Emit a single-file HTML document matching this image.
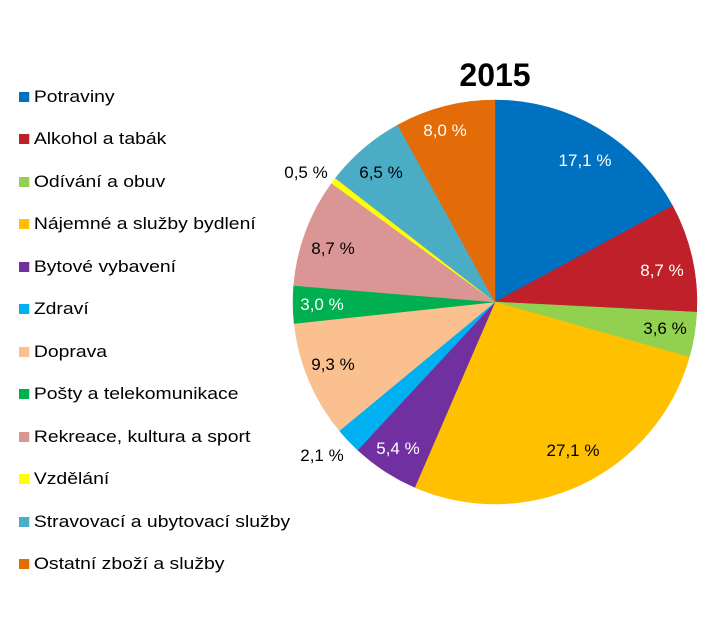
<!DOCTYPE html>
<html><head><meta charset="utf-8"><style>
body{margin:0;background:#fff;width:720px;height:628px;overflow:hidden;font-family:"Liberation Sans",sans-serif;}
.lg{position:absolute;left:19px;font-size:17px;color:#000;line-height:20px;transform:scaleX(1.14);transform-origin:0 0;white-space:nowrap;}
.lg i{display:inline-block;width:9px;height:10px;margin-right:4px;vertical-align:0px;}
</style></head><body>
<div style="position:relative;width:720px;height:628px">
<div class="lg" style="top:87px"><i style="background:#0070C0"></i>Potraviny</div>
<div class="lg" style="top:129px"><i style="background:#C0202A"></i>Alkohol a tabák</div>
<div class="lg" style="top:172px"><i style="background:#92D050"></i>Odívání a obuv</div>
<div class="lg" style="top:214px"><i style="background:#FFC000"></i>Nájemné a služby bydlení</div>
<div class="lg" style="top:257px"><i style="background:#7030A0"></i>Bytové vybavení</div>
<div class="lg" style="top:299px"><i style="background:#00B0F0"></i>Zdraví</div>
<div class="lg" style="top:342px"><i style="background:#FAC090"></i>Doprava</div>
<div class="lg" style="top:384px"><i style="background:#00B050"></i>Pošty a telekomunikace</div>
<div class="lg" style="top:427px"><i style="background:#D99694"></i>Rekreace, kultura a sport</div>
<div class="lg" style="top:469px"><i style="background:#FFFF00"></i>Vzdělání</div>
<div class="lg" style="top:512px"><i style="background:#4BACC6"></i>Stravovací a ubytovací služby</div>
<div class="lg" style="top:554px"><i style="background:#E36C09"></i>Ostatní zboží a služby</div>
<svg id="s" width="720" height="628" style="position:absolute;left:0;top:0">
<g id="p"></g>
<g font-family="Liberation Sans, sans-serif" font-size="17" text-anchor="middle">
<text x="495" y="86" font-size="32" font-weight="bold">2015</text>
<text x="585" y="166" fill="#fff">17,1 %</text>
<text x="662" y="276" fill="#fff">8,7 %</text>
<text x="665" y="334">3,6 %</text>
<text x="573" y="456">27,1 %</text>
<text x="398" y="454" fill="#fff">5,4 %</text>
<text x="322" y="461">2,1 %</text>
<text x="333" y="370">9,3 %</text>
<text x="322" y="310" fill="#fff">3,0 %</text>
<text x="333" y="254">8,7 %</text>
<text x="306" y="178">0,5 %</text>
<text x="381" y="178">6,5 %</text>
<text x="445" y="136" fill="#fff">8,0 %</text>
</g>
</svg>
</div>
<script>
var v=[17.1,8.7,3.6,27.1,5.4,2.1,9.3,3.0,8.7,0.5,6.5,8.0];
var c=["#0070C0","#C0202A","#92D050","#FFC000","#7030A0","#00B0F0","#FAC090","#00B050","#D99694","#FFFF00","#4BACC6","#E36C09"];
var cx=495,cy=302,r=202,a=0,h="";
for(var i=0;i<v.length;i++){var b=a+v[i]/100*2*Math.PI;
var x1=cx+r*Math.sin(a),y1=cy-r*Math.cos(a),x2=cx+r*Math.sin(b),y2=cy-r*Math.cos(b);
h+='<path d="M'+cx+','+cy+'L'+x1+','+y1+'A'+r+','+r+' 0 '+(b-a>Math.PI?1:0)+' 1 '+x2+','+y2+'Z" fill="'+c[i]+'" stroke="'+c[i]+'" stroke-width="0.5"/>';a=b;}
document.getElementById("p").innerHTML=h;
</script>
</body></html>
